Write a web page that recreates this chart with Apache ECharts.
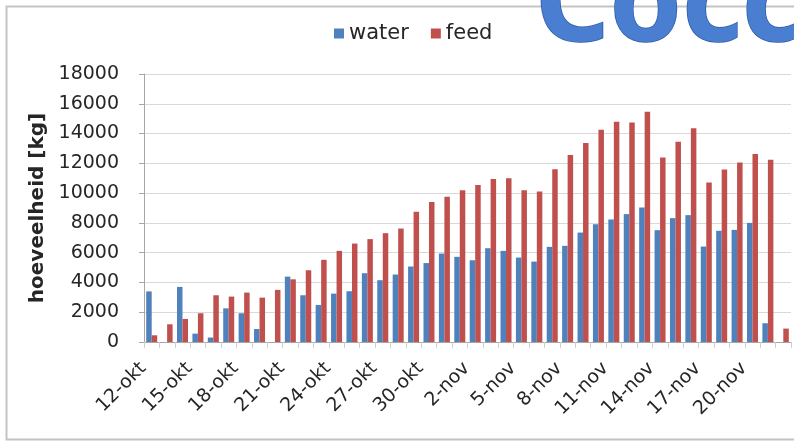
<!DOCTYPE html>
<html>
<head>
<meta charset="utf-8">
<script src="https://cdn.jsdelivr.net/npm/echarts@6/dist/echarts.min.js"></script>
<style>
html,body{margin:0;padding:0;background:#fff;}
#c{width:794px;height:441px;}
</style>
</head>
<body>
<div id="c"></div>
<script>
var categories = ['12-okt','13-okt','14-okt','15-okt','16-okt','17-okt','18-okt','19-okt','20-okt','21-okt',
  '22-okt','23-okt','24-okt','25-okt','26-okt','27-okt','28-okt','29-okt','30-okt','31-okt',
  '1-nov','2-nov','3-nov','4-nov','5-nov','6-nov','7-nov','8-nov','9-nov','10-nov',
  '11-nov','12-nov','13-nov','14-nov','15-nov','16-nov','17-nov','18-nov','19-nov','20-nov',
  '21-nov','22-nov'];
var water = [3400,0,3700,560,300,2260,1930,870,0,4390,3140,2490,3250,3410,4620,4150,4530,5070,5300,5940,
  5720,5490,6300,6120,5670,5400,6390,6460,7350,7910,8230,8590,9040,7510,8320,8520,6410,7470,7530,8000,1260,0];
var feed = [450,1190,1550,1930,3140,3050,3320,2980,3500,4210,4820,5520,6120,6610,6910,7310,7620,8740,9400,9750,
  10200,10540,10940,10990,10200,10110,11610,12560,13360,14260,14800,14750,15470,12400,13450,14350,10720,11590,12060,12620,12240,900];
var yTicks = [0,2000,4000,6000,8000,10000,12000,14000,16000,18000];
var seriesNames = ['water','feed'];
var yTitle = 'hoeveelheid [kg]';
var bannerText = 'Cocc';

var chart = echarts.init(document.getElementById('c'), null, {renderer:'canvas'});
var txt = '#262626';
chart.setOption({
  animation:false,
  backgroundColor:'#ffffff',
  color:['#4F81BD','#C0504D'],
  graphic:[
    {type:'rect', left:4, top:4, shape:{width:820, height:433}, style:{fill:'none', stroke:'#C4C4C4', lineWidth:2}, z:-10},
    {type:'text', x:535, y:8, z:100,
      style:{text:bannerText, font:'bold 116px "Noto Sans"', verticalAlign:'middle', align:'left',
        fill:'#4A7ED0', stroke:'#2C5BA8', lineWidth:1.5}}
  ],
  legend:{
    data:seriesNames, top:18, left:329, itemWidth:10, itemHeight:10, itemGap:22,
    icon:'rect',
    textStyle:{fontFamily:'DejaVu Sans', fontSize:21, color:txt}
  },
  grid:{left:144, right:3, top:74, bottom:99, containLabel:false},
  xAxis:{
    type:'category', data:categories, boundaryGap:true,
    axisLine:{lineStyle:{color:'#A6A6A6'}},
    axisTick:{show:true, interval:0, length:6, lineStyle:{color:'#D0D0D0'}},
    axisLabel:{interval:2, rotate:45, margin:15, padding:[0,12,0,0], fontFamily:'DejaVu Sans', fontSize:19, color:txt}
  },
  yAxis:{
    type:'value', min:0, max:18000, interval:2000,
    name:yTitle, nameLocation:'middle', nameGap:96,
    nameTextStyle:{fontFamily:'DejaVu Sans', fontWeight:'bold', fontSize:20, color:txt},
    axisLine:{show:true, lineStyle:{color:'#A6A6A6'}},
    axisTick:{show:true, length:5, lineStyle:{color:'#A6A6A6'}},
    axisLabel:{margin:25, fontFamily:'DejaVu Sans', fontSize:19, color:txt,
      formatter:function(v){ return yTicks.indexOf(v) >= 0 ? String(v) : ''; }},
    splitLine:{lineStyle:{color:'#D9D9D9'}}
  },
  series:[
    {name:seriesNames[0], type:'bar', data:water, barWidth:5.5, barGap:'0%', itemStyle:{color:'#4F81BD'}},
    {name:seriesNames[1], type:'bar', data:feed, barWidth:5.5, barGap:'0%', itemStyle:{color:'#C0504D'}}
  ]
});
</script>
</body>
</html>
